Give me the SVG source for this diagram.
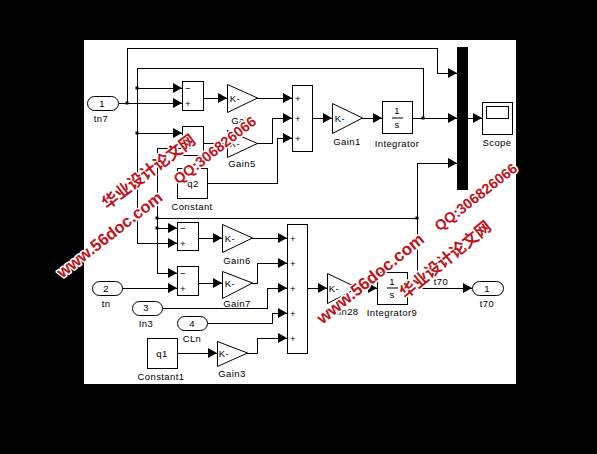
<svg xmlns="http://www.w3.org/2000/svg" width="597" height="454" viewBox="0 0 597 454">
<style>
.b{fill:#fff;stroke:#000;stroke-width:1}
.c{fill:none;stroke:#000;stroke-width:1}
text{font-family:"Liberation Sans",Arial,sans-serif;font-size:9.5px;fill:#000;text-anchor:middle;letter-spacing:.4px}
.w{font-family:"Liberation Sans",Arial,"Noto Sans CJK SC",sans-serif;font-weight:bold;fill:#bd141c;stroke:#fff;stroke-width:3px;paint-order:stroke;stroke-linejoin:round;text-anchor:middle;letter-spacing:0}
</style>
<defs>
<marker id="a" markerUnits="userSpaceOnUse" markerWidth="10" markerHeight="11" refX="9" refY="5.500" orient="auto"><path d="M0 0.500L9 5.500L0 10.500Z" fill="#000"/></marker>
</defs>
<rect width="597" height="454" fill="#000"/>
<rect x="84" y="40" width="432" height="344" fill="#fff"/>
<g id="connectors" class="c" shape-rendering="crispEdges">
<path class="c" d="M118 103H182" marker-end="url(#a)"/>
<path class="c" d="M127 103V48H437V73H457" marker-end="url(#a)"/>
<path class="c" d="M137 88H182" marker-end="url(#a)"/>
<path class="c" d="M137 68H423V118"/>
<path class="c" d="M137 68V243H177" marker-end="url(#a)"/>
<path class="c" d="M137 133H182" marker-end="url(#a)"/>
<path class="c" d="M157 148H182"/>
<path class="c" d="M157 148V273H177" marker-end="url(#a)"/>
<path class="c" d="M157 228H177" marker-end="url(#a)"/>
<path class="c" d="M157 218H417V163H457" marker-end="url(#a)"/>
<path class="c" d="M417 218V288"/>
<path class="c" d="M203 98H227" marker-end="url(#a)"/>
<path class="c" d="M257 98H292" marker-end="url(#a)"/>
<path class="c" d="M203 143H227"/>
<path class="c" d="M257 143H272V118H292" marker-end="url(#a)"/>
<path class="c" d="M208 183H277V138H292" marker-end="url(#a)"/>
<path class="c" d="M313 118H332" marker-end="url(#a)"/>
<path class="c" d="M362 118H382" marker-end="url(#a)"/>
<path class="c" d="M413 118H457" marker-end="url(#a)"/>
<path class="c" d="M468 118H482" marker-end="url(#a)"/>
<path class="c" d="M198 238H222" marker-end="url(#a)"/>
<path class="c" d="M252 238H287" marker-end="url(#a)"/>
<path class="c" d="M198 283H222" marker-end="url(#a)"/>
<path class="c" d="M252 283H257V263H287" marker-end="url(#a)"/>
<path class="c" d="M122 288H177" marker-end="url(#a)"/>
<path class="c" d="M163 308H267V288H287" marker-end="url(#a)"/>
<path class="c" d="M207 323H272V313H287" marker-end="url(#a)"/>
<path class="c" d="M177 353H217" marker-end="url(#a)"/>
<path class="c" d="M247 353H257V338H287" marker-end="url(#a)"/>
<path class="c" d="M308 288H327" marker-end="url(#a)"/>
<path class="c" d="M357 288H377" marker-end="url(#a)"/>
<path class="c" d="M408 288H472" marker-end="url(#a)"/>
</g>
<g id="junctions" fill="#000">
<rect x="125.500" y="101.500" width="3" height="3"/>
<rect x="135.500" y="86.500" width="3" height="3"/>
<rect x="135.500" y="131.500" width="3" height="3"/>
<rect x="155.500" y="216.500" width="3" height="3"/>
<rect x="155.500" y="226.500" width="3" height="3"/>
<rect x="421.500" y="116.500" width="3" height="3"/>
<rect x="415.500" y="216.500" width="3" height="3"/>
<rect x="415.500" y="286.500" width="3" height="3"/>
</g>
<g id="tn7"><rect class="b" x="87.500" y="96.500" width="31" height="14" rx="7"/><text x="102" y="107">1</text><text x="101" y="122">tn7</text></g>
<g id="tn"><rect class="b" x="92.500" y="281.500" width="30" height="14" rx="7"/><text x="106" y="292">2</text><text x="106" y="307">tn</text></g>
<g id="In3"><rect class="b" x="132.500" y="301.500" width="30" height="14" rx="7"/><text x="146" y="311">3</text><text x="146" y="327">In3</text></g>
<g id="CLn"><rect class="b" x="177.500" y="316.500" width="30" height="14" rx="7"/><text x="192" y="327">4</text><text x="192" y="342">CLn</text></g>
<g id="Sum"><rect class="b" x="182.500" y="81.500" width="21" height="29"/><text x="188" y="92">−</text><text x="188" y="107">+</text></g>
<g id="Sum2"><rect class="b" x="182.500" y="126.500" width="21" height="29"/><text x="188" y="137">−</text><text x="188" y="152">+</text></g>
<g id="Sum3"><rect class="b" x="177.500" y="222.500" width="21" height="28"/><text x="183" y="232">−</text><text x="183" y="247">+</text></g>
<g id="Sum4"><rect class="b" x="177.500" y="266.500" width="21" height="29"/><text x="183" y="277">−</text><text x="183" y="292">+</text></g>
<g id="Gain"><path class="b" d="M227.500 84.500L257.500 98L227.500 112.500Z"/><text x="235" y="102">K-</text><text x="242" y="124">Gain</text></g>
<g id="Gain5"><path class="b" d="M227.500 130.500L257.500 143.500L227.500 157.500Z"/><text x="235" y="147">K-</text><text x="242" y="167">Gain5</text></g>
<g id="Constant"><rect class="b" x="177.500" y="168.500" width="30" height="30"/><text x="193" y="187">q2</text><text x="192" y="210">Constant</text></g>
<g id="Sum5"><rect class="b" x="292.500" y="85.500" width="20" height="66"/><text x="298" y="102">+</text><text x="298" y="122">+</text><text x="298" y="142">+</text></g>
<g id="Gain1"><path class="b" d="M332.500 103.500L362.500 118L332.500 133.500Z"/><text x="340" y="122">K-</text><text x="347" y="145">Gain1</text></g>
<g id="Integrator"><rect class="b" x="382.500" y="101.500" width="30" height="32"/><text x="397" y="114">1</text><path class="c" d="M392 118H403"/><text x="397" y="128">s</text><text x="397" y="147">Integrator</text></g>
<g id="Mux"><rect x="457" y="47" width="11" height="143" fill="#000"/></g>
<g id="Scope"><rect class="b" x="482.500" y="102.500" width="30" height="32"/><rect class="b" x="486.500" y="106.500" width="22" height="12"/><text x="497" y="146">Scope</text></g>
<g id="Gain6"><path class="b" d="M222.500 224.500L252.500 238L222.500 252.500Z"/><text x="230" y="242">K-</text><text x="237" y="264">Gain6</text></g>
<g id="Gain7"><path class="b" d="M222.500 271.500L252.500 283L222.500 298.500Z"/><text x="230" y="287">K-</text><text x="237" y="307">Gain7</text></g>
<g id="Constant1"><rect class="b" x="147.500" y="338.500" width="30" height="30"/><text x="162" y="357">q1</text><text x="161" y="380">Constant1</text></g>
<g id="Gain3"><path class="b" d="M217.500 341.500L247.500 353L217.500 366.500Z"/><text x="224" y="357">K-</text><text x="232" y="377">Gain3</text></g>
<g id="Sum6"><rect class="b" x="287.500" y="224.500" width="20" height="129"/><text x="293" y="242">+</text><text x="293" y="267">+</text><text x="293" y="292">+</text><text x="293" y="317">+</text><text x="293" y="342">+</text></g>
<g id="Gain28"><path class="b" d="M327.500 273.500L357.500 288L327.500 303.500Z"/><text x="334" y="292">K-</text><text x="342" y="315">Gain28</text></g>
<g id="Integrator9"><rect class="b" x="377.500" y="272.500" width="30" height="32"/><text x="392" y="285">1</text><path class="c" d="M387 288H398"/><text x="392" y="298">s</text><text x="392" y="316">Integrator9</text></g>
<text x="441" y="285">t70</text>
<g id="t70"><rect class="b" x="472.500" y="281.500" width="31" height="14" rx="7"/><text x="487" y="292">1</text><text x="487" y="307">t70</text></g>
<g id="watermark">
<text class="w" transform="translate(113 239) rotate(-38)" style="font-size:16.500px">www.56doc.com</text>
<text class="w" transform="translate(152 176) rotate(-37)" style="font-size:16px">华业设计论文网</text>
<text class="w" transform="translate(218 154) rotate(-38)" style="font-size:14.500px">QQ:306826066</text>
<text class="w" transform="translate(374 283) rotate(-39)" style="font-size:17px">www.56doc.com</text>
<text class="w" transform="translate(449 264) rotate(-39)" style="font-size:16px">华业设计论文网</text>
<text class="w" transform="translate(479 201) rotate(-38)" style="font-size:14.500px">QQ:306826066</text>
</g>
</svg>
